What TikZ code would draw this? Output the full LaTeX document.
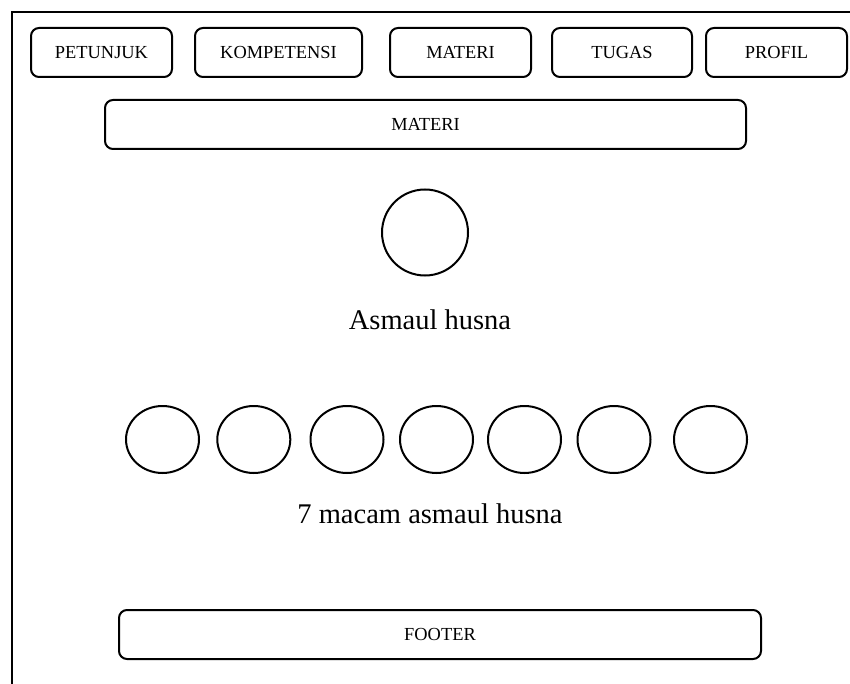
\documentclass[tikz,border=0pt]{standalone}
\usepackage{fontspec}
\setmainfont{Liberation Serif}
\usepackage{tikz}
\usetikzlibrary{shapes.geometric}

\begin{document}
\begin{tikzpicture}[x=1pt,y=-1pt,line width=2pt,
  tab/.style={draw,rounded corners=8pt,minimum height=49pt,inner sep=0pt,
    font=\fontsize{18.4}{20}\selectfont},
  bul/.style={draw,ellipse,minimum width=73pt,minimum height=67pt,inner sep=0pt},
  judul/.style={anchor=base,font=\fontsize{28.5}{32}\selectfont}]
  \useasboundingbox (0,0) rectangle (850,684);
  % frame
  \draw (11.5,684) -- (11.5,12.5) -- (850,12.5);
  % menu
  \node[tab,minimum width=141pt] (petunjuk)   at (101.5,52.5) {PETUNJUK};
  \node[tab,minimum width=167pt] (kompetensi) at (278.5,52.5) {KOMPETENSI};
  \node[tab,minimum width=141pt] (materi)     at (460.5,52.5) {MATERI};
  \node[tab,minimum width=140pt] (tugas)      at (622,52.5)   {TUGAS};
  \node[tab,minimum width=141pt] (profil)     at (776.5,52.5) {PROFIL};
  % judul halaman
  \node[tab,minimum width=641pt] (bar) at (425.5,124.5) {MATERI};
  % asmaul husna
  \node[draw,circle,minimum size=86pt,inner sep=0pt] (logo) at (425,232.5) {};
  \node[judul] (asmaul) at (430,329) {Asmaul husna};
  \foreach \cx [count=\i] in {162.5,253.8,347,436.5,524.5,614,710.5}
    \node[bul] (c\i) at (\cx,439.5) {};
  \node[judul] (macam) at (430,523) {7 macam asmaul husna};
  % footer
  \node[tab,minimum width=642pt] (footer) at (440,634.5) {FOOTER};
\end{tikzpicture}
\end{document}
